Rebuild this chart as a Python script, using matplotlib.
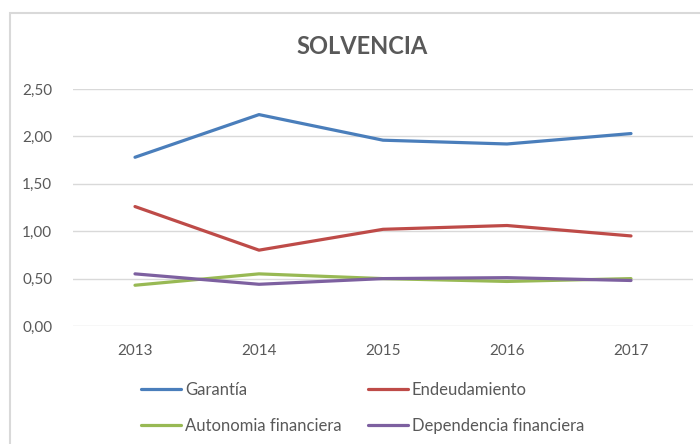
import numpy as np
import matplotlib.pyplot as plt
from matplotlib.patches import Rectangle
from matplotlib.ticker import FuncFormatter

# Datos
anios = ['2013', '2014', '2015', '2016', '2017']
garantia = [1.78, 2.23, 1.96, 1.92, 2.03]
endeudamiento = [1.26, 0.80, 1.02, 1.06, 0.95]
autonomia = [0.43, 0.55, 0.50, 0.47, 0.50]
dependencia = [0.55, 0.44, 0.50, 0.51, 0.48]

plt.rcParams['font.family'] = ['Lato', 'DejaVu Sans']
gris = '#595959'

fig = plt.figure(figsize=(7, 4.44), dpi=100)
fig.patch.set_facecolor('white')

# Borde del área del gráfico (se corta a la derecha y abajo)
fig.patches.append(Rectangle((10 / 700, -0.05), 1.2, 1 - 13 / 444 + 0.05,
                             transform=fig.transFigure, fill=False,
                             edgecolor='#D9D9D9', lw=1.5))

ax = fig.add_axes([73 / 700, 1 - 326 / 444, 620 / 700, 237 / 444])
x = np.arange(len(anios))

l1, = ax.plot(x, garantia, color='#4A7EBB', lw=2.3, label='Garantía', solid_capstyle='round')
l2, = ax.plot(x, endeudamiento, color='#BE4B48', lw=2.3, label='Endeudamiento', solid_capstyle='round')
l3, = ax.plot(x, autonomia, color='#98B954', lw=2.3, label='Autonomia financiera', solid_capstyle='round')
l4, = ax.plot(x, dependencia, color='#7D60A0', lw=2.3, label='Dependencia financiera', solid_capstyle='round')

ax.set_xlim(-0.5, len(anios) - 0.5)
ax.set_ylim(0, 2.5)
ax.set_yticks(np.arange(0, 2.51, 0.5))
ax.yaxis.set_major_formatter(FuncFormatter(lambda v, p: f'{v:.2f}'.replace('.', ',')))
ax.set_xticks(x)
ax.set_xticklabels(anios)
ax.grid(axis='y', color='#D9D9D9', lw=1)
ax.set_axisbelow(True)
for s in ax.spines.values():
    s.set_visible(False)
ax.tick_params(axis='both', length=0, labelsize=11, labelcolor=gris)
ax.tick_params(axis='y', pad=15)
ax.tick_params(axis='x', pad=13)

fig.text(362 / 700, 1 - 47 / 444, 'SOLVENCIA', ha='center', va='center',
         fontsize=17, fontweight='bold', color=gris)

leg = fig.legend([l1, l3, l2, l4],
                 ['Garantía', 'Autonomia financiera', 'Endeudamiento', 'Dependencia financiera'],
                 ncol=2, loc='upper left', bbox_to_anchor=(141 / 700, 1 - 382 / 444),
                 frameon=False, fontsize=12, handlelength=2.4, handletextpad=0.25,
                 labelspacing=1.2, columnspacing=1.55, borderpad=0, borderaxespad=0)
for t in leg.get_texts():
    t.set_color(gris)

fig.savefig('out.png', dpi=100)
